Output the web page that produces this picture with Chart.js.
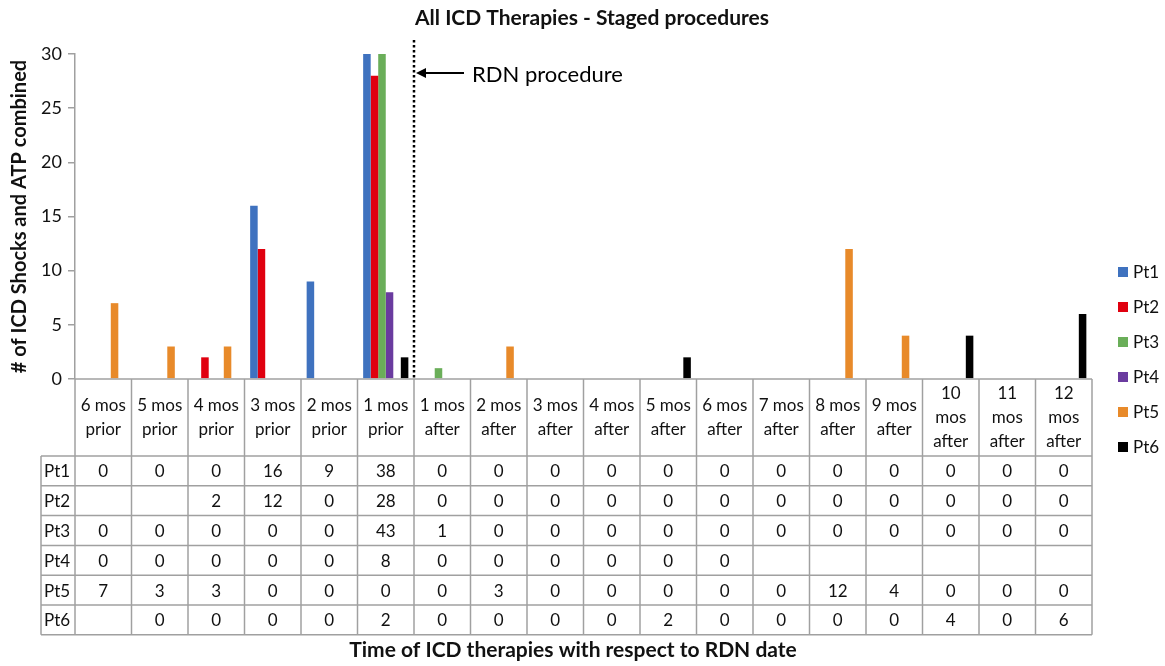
<!DOCTYPE html>
<html>
<head>
<meta charset="utf-8">
<script src="https://cdn.jsdelivr.net/npm/chart.js@4.4.0/dist/chart.umd.min.js"></script>
<style>
html,body{margin:0;padding:0;background:#fff;}
canvas{display:block;}
</style>
</head>
<body>
<canvas id="c" width="1165" height="666"></canvas>
<script>
// ---- data ----
const categories = [
  ["6 mos","prior"],["5 mos","prior"],["4 mos","prior"],["3 mos","prior"],["2 mos","prior"],["1 mos","prior"],
  ["1 mos","after"],["2 mos","after"],["3 mos","after"],["4 mos","after"],["5 mos","after"],["6 mos","after"],
  ["7 mos","after"],["8 mos","after"],["9 mos","after"],["10","mos","after"],["11","mos","after"],["12","mos","after"]
];
const seriesNames = ["Pt1","Pt2","Pt3","Pt4","Pt5","Pt6"];
const pt1 = [0,0,0,16,9,38,0,0,0,0,0,0,0,0,0,0,0,0];
const pt2 = [null,null,2,12,0,28,0,0,0,0,0,0,0,0,0,0,0,0];
const pt3 = [0,0,0,0,0,43,1,0,0,0,0,0,0,0,0,0,0,0];
const pt4 = [0,0,0,0,0,8,0,0,0,0,0,0,null,null,null,null,null,null];
const pt5 = [7,3,3,0,0,0,0,3,0,0,0,0,0,12,4,0,0,0];
const pt6 = [null,0,0,0,0,2,0,0,0,0,2,0,0,0,0,4,0,6];
const seriesValues = [pt1,pt2,pt3,pt4,pt5,pt6];
const seriesColors = ["#3f72bf","#e0000f","#6aae59","#6a3b9f","#e88a2a","#000000"];
const yTicks = [0,5,10,15,20,25,30];
const chartTitle = "All ICD Therapies - Staged procedures";
const yTitle = "# of ICD Shocks and ATP combined";
const xTitle = "Time of ICD therapies with respect to RDN date";
const annotationText = "RDN procedure";
const procedureAfterIndex = 5; // RDN procedure between "1 mos prior" and "1 mos after"

const FONT = "Lato, 'Open Sans', sans-serif";

const tablePlugin = {
  id: 'tablePlugin',
  afterDraw(chart) {
    const ctx = chart.ctx;
    const x = chart.scales.x;
    const area = chart.chartArea;
    const n = categories.length;
    const cw = (area.right - area.left) / n;
    const top = area.bottom;
    const headerBottom = top + 77;
    const rowH = 29.8;
    const labelLeft = 41;
    const tableBottom = headerBottom + rowH * seriesNames.length;
    ctx.save();
    ctx.strokeStyle = "#a0a0a0";
    ctx.lineWidth = 1.5;
    for (let i = 0; i <= n; i++) {
      const px = area.left + i * cw;
      ctx.beginPath(); ctx.moveTo(px, top); ctx.lineTo(px, tableBottom); ctx.stroke();
    }
    ctx.beginPath(); ctx.moveTo(labelLeft, headerBottom); ctx.lineTo(labelLeft, tableBottom); ctx.stroke();
    ctx.beginPath(); ctx.moveTo(area.left, top); ctx.lineTo(area.right, top); ctx.stroke();
    for (let r = 0; r <= seriesNames.length; r++) {
      const py = headerBottom + r * rowH;
      ctx.beginPath(); ctx.moveTo(labelLeft, py); ctx.lineTo(area.right, py); ctx.stroke();
    }
    ctx.fillStyle = "#111";
    ctx.font = "17px " + FONT;
    ctx.textAlign = "center";
    ctx.textBaseline = "middle";
    const midH = (top + headerBottom) / 2;
    categories.forEach((lines, i) => {
      const cx = x.getPixelForValue(i);
      const lh = 24;
      const y0 = midH - (lines.length - 1) * lh / 2;
      lines.forEach((t, k) => ctx.fillText(t, cx, y0 + k * lh));
    });
    seriesNames.forEach((name, r) => {
      const cy = headerBottom + r * rowH + rowH / 2 + 1;
      ctx.textAlign = "left";
      ctx.fillText(name, labelLeft + 3, cy);
      ctx.textAlign = "center";
      seriesValues[r].forEach((v, i) => {
        if (v !== null) ctx.fillText(String(v), x.getPixelForValue(i), cy);
      });
    });
    // legend
    ctx.font = "17px " + FONT;
    ctx.textAlign = "left";
    seriesNames.forEach((name, i) => {
      const ly = 272 + 35 * i;
      ctx.fillStyle = seriesColors[i];
      ctx.fillRect(1118, ly - 5, 10, 10);
      ctx.fillStyle = "#111";
      ctx.fillText(name, 1133, ly + 1);
    });
    // titles
    ctx.fillStyle = "#111";
    ctx.font = "bold 21px " + FONT;
    ctx.textAlign = "center";
    ctx.fillText(chartTitle, 592, 18);
    ctx.font = "bold 21px " + FONT;
    ctx.fillText(xTitle, 573, 650);
    ctx.save();
    ctx.translate(20, (area.top + area.bottom) / 2);
    ctx.rotate(-Math.PI / 2);
    ctx.font = "bold 20px " + FONT;
    ctx.fillText(yTitle, 0, 0);
    ctx.restore();
    // RDN dotted line
    const lx = (x.getPixelForValue(procedureAfterIndex) + x.getPixelForValue(procedureAfterIndex + 1)) / 2;
    ctx.strokeStyle = "#000";
    ctx.lineWidth = 2.5;
    ctx.setLineDash([2.5, 2.5]);
    ctx.beginPath(); ctx.moveTo(lx, 40); ctx.lineTo(lx, area.bottom); ctx.stroke();
    ctx.setLineDash([]);
    const ay = 73;
    ctx.lineWidth = 2;
    ctx.beginPath(); ctx.moveTo(lx + 8, ay); ctx.lineTo(lx + 50, ay); ctx.stroke();
    ctx.fillStyle = "#000";
    ctx.beginPath(); ctx.moveTo(lx + 2, ay); ctx.lineTo(lx + 12, ay - 5); ctx.lineTo(lx + 12, ay + 5); ctx.closePath(); ctx.fill();
    ctx.font = "22px " + FONT;
    ctx.textAlign = "left";
    ctx.fillText(annotationText, lx + 58, ay + 2);
    ctx.restore();
  }
};

new Chart(document.getElementById('c'), {
  type: 'bar',
  data: {
    labels: categories.map(c => c.join(' ')),
    datasets: seriesNames.map((name, i) => ({
      label: name,
      data: seriesValues[i],
      backgroundColor: seriesColors[i],
      borderWidth: 0
    }))
  },
  options: {
    responsive: false,
    devicePixelRatio: 1,
    animation: false,
    layout: { padding: { top: 54, right: 73, left: 0, bottom: 0 } },
    plugins: { legend: { display: false }, title: { display: false }, tooltip: { enabled: false } },
    datasets: { bar: { categoryPercentage: 0.8, barPercentage: 1.0 } },
    scales: {
      x: {
        ticks: { display: false },
        grid: { display: false },
        border: { display: false },
        afterFit(s) { s.height = 287; }
      },
      y: {
        min: 0, max: 30,
        afterBuildTicks(s) { s.ticks = yTicks.map(v => ({ value: v })); },
        ticks: { font: { size: 18, family: FONT }, color: "#111", padding: 6 },
        grid: { drawOnChartArea: false, drawTicks: true, tickLength: 7, color: "#a0a0a0", lineWidth: 1.5 },
        border: { display: true, color: "#a0a0a0", width: 1.5 },
        afterFit(s) { s.width = 75; }
      }
    }
  },
  plugins: [tablePlugin]
});
</script>
</body>
</html>
